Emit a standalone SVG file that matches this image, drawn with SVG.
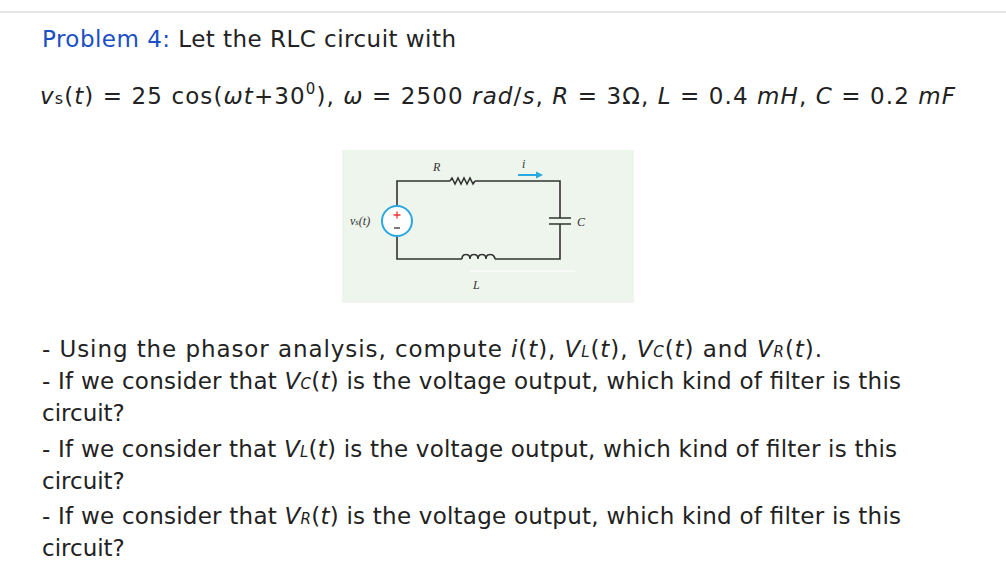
<svg xmlns="http://www.w3.org/2000/svg" width="1006" height="586" viewBox="0 0 1006 586">
<style>
text{font-family:"DejaVu Sans","Liberation Sans",sans-serif;fill:#222;font-size:23px}
.i{font-style:italic}
.w{stroke:#333;stroke-width:1.6;fill:none}
.s{font-family:"Liberation Serif",serif;font-style:italic;font-size:12px;fill:#333}
</style>
<rect width="1006" height="586" fill="#fff"/>
<line x1="0" y1="12" x2="1006" y2="12" stroke="#ccc"/>
<text x="42" y="47" textLength="414" lengthAdjust="spacing"><tspan fill="#1b4fc4">Problem 4:</tspan> Let the RLC circuit with</text>
<text x="40" y="104" font-size="24" textLength="915" lengthAdjust="spacing"><tspan class="i">v</tspan><tspan font-size="16">s</tspan>(<tspan class="i">t</tspan>) = 25 cos(<tspan class="i">ωt</tspan>+30<tspan font-size="15" dy="-10">0</tspan><tspan dy="10">),  </tspan><tspan class="i">ω</tspan> = 2500 <tspan class="i">rad</tspan>/<tspan class="i">s</tspan>,  <tspan class="i">R</tspan> = 3Ω,  <tspan class="i">L</tspan> = 0.4 <tspan class="i">mH</tspan>,  <tspan class="i">C</tspan> = 0.2 <tspan class="i">mF</tspan></text>
<g id="circuit">
<rect x="342" y="150" width="292" height="153" fill="#eef5ec"/>
<line x1="470" y1="271" x2="575" y2="271" stroke="#fff" stroke-width="1"/>
<g id="wires" class="w">
<path d="M397 205V181H450M475 181H560V218M560 224V259H495M462 259H397V237"/>
<path d="M450 181l2-3 3 6 3-6 3 6 3-6 3 6 3-6 3 6 2-3"/>
<path d="M462 259c0-6 8-6 8 0c0-6 8-6 8 0c0-6 8-6 8 0c0-6 8-6 9 0"/>
<path d="M549 218H571M549 224H571"/>
</g>
<g id="source">
<circle cx="397" cy="221" r="15" fill="#fff" stroke="#2aa8e0" stroke-width="2"/>
<path d="M393.5 215H400.5M397 211.5V218.5" stroke="#e33" stroke-width="1.3"/>
<path d="M394 228H400" stroke="#333" stroke-width="1.3"/>
</g>
<text class="s" x="350" y="225">v<tspan font-size="9">s</tspan>(t)</text>
<text class="s" x="433" y="171">R</text>
<text class="s" x="577" y="226">C</text>
<text class="s" x="473" y="289">L</text>
<text class="s" x="522" y="168">i</text>
<path d="M518 175H537" stroke="#2aa8e0" stroke-width="2"/>
<path d="M543 175l-7-3.5v7z" fill="#2aa8e0"/>
</g>
<text x="42" y="357" textLength="780" lengthAdjust="spacing">- Using the phasor analysis, compute <tspan class="i">i</tspan>(<tspan class="i">t</tspan>), <tspan class="i">V</tspan><tspan font-size="15" class="i">L</tspan>(<tspan class="i">t</tspan>),  <tspan class="i">V</tspan><tspan font-size="15" class="i">C</tspan>(<tspan class="i">t</tspan>) and <tspan class="i">V</tspan><tspan font-size="15" class="i">R</tspan>(<tspan class="i">t</tspan>).</text>
<text x="42" y="389" textLength="859" lengthAdjust="spacing">- If we consider that <tspan class="i">V</tspan><tspan font-size="15" class="i">C</tspan>(<tspan class="i">t</tspan>) is the voltage output, which kind of filter is this</text>
<text x="42" y="421">circuit?</text>
<text x="42" y="457" textLength="855" lengthAdjust="spacing">- If we consider that <tspan class="i">V</tspan><tspan font-size="15" class="i">L</tspan>(<tspan class="i">t</tspan>) is the voltage output, which kind of filter is this</text>
<text x="42" y="489">circuit?</text>
<text x="42" y="524" textLength="859" lengthAdjust="spacing">- If we consider that <tspan class="i">V</tspan><tspan font-size="15" class="i">R</tspan>(<tspan class="i">t</tspan>) is the voltage output, which kind of filter is this</text>
<text x="42" y="556">circuit?</text>
</svg>
